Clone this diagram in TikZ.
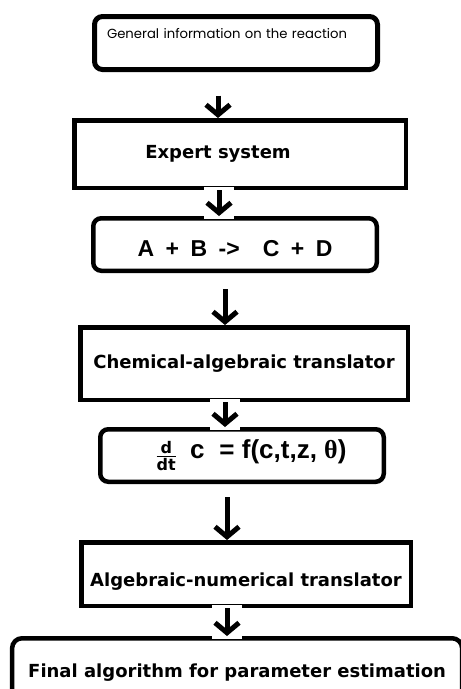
\documentclass[tikz,border=0pt]{standalone}
\usepackage{fontspec}
\newfontfamily\genfont{Poppins}
\newfontfamily\boldfont{DejaVu Sans}
\newfontfamily\arialfont{Liberation Sans}
\newfontfamily\timesfont{Liberation Serif}
\usetikzlibrary{arrows.meta}

\begin{document}
\begin{tikzpicture}[
  block/.style={rectangle, draw, line width=4.5pt, inner sep=0pt, font=\boldfont\bfseries\fontsize{18}{20}\selectfont},
  rblock/.style={block, rounded corners=8pt},
  arrow/.style={line width=5pt, -{Straight Barb[length=10pt,width=24pt]}},
  gaparrow/.style={arrow, preaction={draw=white, -, line width=30pt, shorten <=-3pt, shorten >=-3pt}},
  font=\small
]
\path[use as bounding box, clip] (0,0) rectangle (461pt,-689pt);

\node[rblock, line width=5pt, font=\genfont\fontsize{13.2}{15}\selectfont, align=left, text width=258pt, inner xsep=12.5pt, inner ysep=0pt, text height=21.5pt, text depth=31.5pt] (gen) at (236pt,-43pt) {General information on the reaction};
\node[block, below of=gen, node distance=111pt, xshift=4pt, minimum width=331.5pt, minimum height=67.5pt] (expert) {Expert system\hspace*{44pt}};
\node[rblock, below of=expert, node distance=90.5pt, xshift=-5pt, minimum width=283.5pt, minimum height=52.5pt, text height=24.5pt, font=\arialfont\bfseries\fontsize{23}{26}\selectfont] (reaction) {A\enspace+\enspace B\enspace->\quad C\enspace+\enspace D};
\node[block, below of=reaction, node distance=119pt, xshift=9pt, minimum width=327.5pt, minimum height=72.5pt] (chem) {Chemical-algebraic translator};
\node[rblock, below of=chem, node distance=92pt, xshift=-2pt, minimum width=283.5pt, minimum height=52.5pt, font=\arialfont\bfseries\fontsize{26}{28}\selectfont] (ode) {\hspace*{18pt}\raisebox{-2pt}{\boldfont\bfseries\fontsize{16}{16}\selectfont${\hbox{d}\above1.6pt\hbox{dt}}$}\hspace{13pt}c\hspace{15pt}= f(c,t,z, {\timesfont θ})};
\node[block, below of=ode, node distance=118.5pt, xshift=4pt, minimum width=329.5pt, minimum height=63.5pt, text height=29.7pt] (algnum) {Algebraic-numerical translator};
\node[rblock, below of=algnum, node distance=98.5pt, xshift=-8.9pt, minimum width=450pt, minimum height=68.5pt, rounded corners=10pt] (final) {Final algorithm for parameter estimation};

\coordinate (a1) at ([xshift=-18pt,yshift=-23.5pt]gen.south);
\coordinate (a3) at ([xshift=-10pt,yshift=-16.25pt]reaction.south);
\coordinate (a5) at ([xshift=-15pt,yshift=-13.25pt]ode.south);

\draw[arrow] (a1) -- (a1 |- expert.north);
\draw[gaparrow] ([xshift=-21pt]expert.south) -- ([xshift=-21pt]expert.south |- reaction.north);
\draw[arrow] (a3) -- (a3 |- chem.north);
\draw[gaparrow] ([xshift=-19pt]chem.south) -- ([xshift=-19pt]chem.south |- ode.north);
\draw[arrow] (a5) -- (a5 |- algnum.north);
\draw[gaparrow] ([xshift=-19pt]algnum.south) -- ([xshift=-19pt]algnum.south |- final.north);
\end{tikzpicture}
\end{document}
